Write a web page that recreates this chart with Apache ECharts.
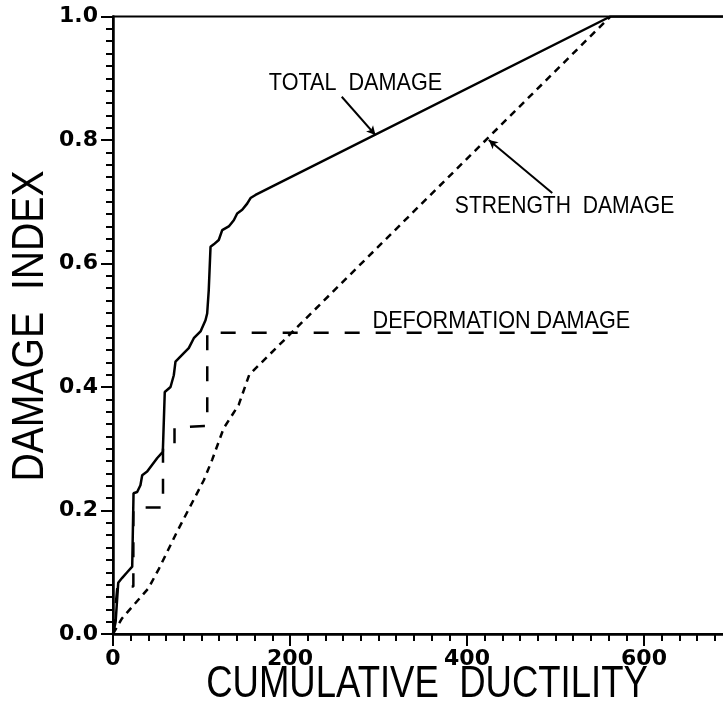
<!DOCTYPE html>
<html>
<head>
<meta charset="utf-8">
<script src="https://cdn.jsdelivr.net/npm/echarts@6/dist/echarts.min.js"></script>
<style>
  html, body { margin: 0; padding: 0; background: #fff; }
  #chart { width: 723px; height: 712px; }
</style>
</head>
<body>
<div id="chart"></div>
<script>
// Damage index versus cumulative ductility: [ductility, damage index]
const totalDamage = [
  [0, 0], [3, 0.02], [5.9, 0.083], [10.4, 0.091], [16, 0.100], [21.7, 0.109],
  [23.2, 0.228], [27.3, 0.230], [31, 0.241], [33, 0.257], [38.6, 0.263],
  [44.3, 0.274], [50, 0.285], [56.3, 0.295], [58.5, 0.392], [65, 0.400],
  [68.7, 0.419], [70.6, 0.441], [80, 0.455], [85.6, 0.463], [91.3, 0.479],
  [98.9, 0.490], [104.5, 0.508], [106.4, 0.519], [108.2, 0.557], [110.2, 0.627],
  [113.9, 0.631], [119.5, 0.638], [123.4, 0.654], [130.8, 0.660], [136.5, 0.670],
  [140.3, 0.681], [146, 0.687], [151.6, 0.697], [155.4, 0.706], [161, 0.711],
  [562, 1.0], [700, 1.0]
];
const deformationDamage = [
  [0, 0], [5, 0.077], [23, 0.077], [23, 0.205], [56.5, 0.205], [56.5, 0.300],
  [69.5, 0.300], [69.5, 0.334], [103, 0.337], [106.5, 0.337], [106.5, 0.488],
  [559, 0.488]
];
const strengthDamage = [
  [0, 0], [10, 0.025], [40, 0.074], [52, 0.106], [72.5, 0.166], [102.6, 0.249],
  [112, 0.282], [125, 0.333], [142, 0.371], [154, 0.420], [562, 1.0]
];
const xTickLabels = [0, 200, 400, 600];
const yTickLabels = ['0.0', '0.2', '0.4', '0.6', '0.8', '1.0'];

const xTitle = 'CUMULATIVE  DUCTILITY';
const yTitle = 'DAMAGE  INDEX';
const curveNames = ['TOTAL  DAMAGE', 'STRENGTH  DAMAGE', 'DEFORMATION DAMAGE'];

const INK = '#000';
const tickFont = { color: INK, fontFamily: 'DejaVu Sans', fontWeight: 'bold', fontSize: 22 };

const chart = echarts.init(document.getElementById('chart'), null, { renderer: 'canvas' });

const leader = (from, to) => ({
  symbol: ['none', 'arrow'],
  symbolSize: [7, 9],
  silent: true,
  label: { show: false },
  lineStyle: { color: INK, width: 2, type: 'solid' },
  data: [[{ coord: from }, { coord: to }]]
});

const option = {
  animation: false,
  backgroundColor: '#fff',
  grid: {
    left: 113, top: 16.5, height: 617.5, width: 619.5,
    outerBoundsMode: 'none', containLabel: false,
    show: true, borderColor: INK, borderWidth: 2, backgroundColor: 'transparent'
  },
  xAxis: [
    {
      type: 'value', min: 0, max: 700, interval: 20, position: 'bottom',
      axisLine: { show: true, onZero: false, lineStyle: { color: INK, width: 2.5 } },
      axisTick: { show: true, inside: false, length: 7, lineStyle: { color: INK, width: 2 } },
      axisLabel: { show: false },
      splitLine: { show: false }
    },
    {
      type: 'value', min: 0, max: 700, interval: 200, position: 'bottom',
      axisLine: { show: false, onZero: false },
      axisTick: { show: true, inside: false, length: 12, lineStyle: { color: INK, width: 2 } },
      axisLabel: Object.assign({
        margin: 14,
        formatter: v => (xTickLabels.indexOf(v) >= 0 ? String(v) : '')
      }, tickFont),
      splitLine: { show: false }
    }
  ],
  yAxis: [
    {
      type: 'value', min: 0, max: 1, interval: 0.02, position: 'left',
      axisLine: { show: true, onZero: false, lineStyle: { color: INK, width: 2.5 } },
      axisTick: { show: true, inside: false, length: 7, lineStyle: { color: INK, width: 2 } },
      axisLabel: { show: false },
      splitLine: { show: false }
    },
    {
      type: 'value', min: 0, max: 1, interval: 0.2, position: 'left',
      axisLine: { show: false, onZero: false },
      axisTick: { show: true, inside: false, length: 12, lineStyle: { color: INK, width: 2 } },
      axisLabel: Object.assign({
        margin: 15,
        formatter: v => yTickLabels[Math.round(v * 5)]
      }, tickFont),
      splitLine: { show: false }
    }
  ],
  series: [
    {
      name: curveNames[0], type: 'line', data: totalDamage,
      xAxisIndex: 0, yAxisIndex: 0, showSymbol: false, clip: true,
      lineStyle: { color: INK, width: 2.5, type: 'solid' },
      markLine: leader([258.5, 0.870], [296.6, 0.808])
    },
    {
      name: curveNames[1], type: 'line', data: strengthDamage,
      xAxisIndex: 0, yAxisIndex: 0, showSymbol: false, clip: true,
      lineStyle: { color: INK, width: 2.5, type: [7, 5.5] },
      markLine: leader([496.3, 0.714], [424.6, 0.800])
    },
    {
      name: curveNames[2], type: 'line', data: deformationDamage,
      xAxisIndex: 0, yAxisIndex: 0, showSymbol: false, clip: true,
      lineStyle: { color: INK, width: 2.5, type: [15, 16] }
    }
  ]
};

chart.setOption(option);

// Text placed in data space, then converted to pixels
const toPx = (pt) => chart.convertToPixel({ gridIndex: 0 }, pt);
const note = (text, pt, size, sx) => {
  const p = toPx(pt);
  return {
    type: 'text', x: p[0], y: p[1], scaleX: sx, silent: true,
    style: {
      text: text, fill: INK, fontFamily: 'Liberation Sans', fontSize: size,
      align: 'center', verticalAlign: 'middle'
    }
  };
};

chart.setOption({
  graphic: [
    note(curveNames[0], [274, 0.892], 24, 0.9),
    note(curveNames[1], [510.2, 0.693], 24, 0.88),
    note(curveNames[2], [438.8, 0.507], 24, 0.9),
    {
      type: 'text', x: 427, y: 685, scaleX: 0.83, silent: true,
      style: {
        text: xTitle, fill: INK, fontFamily: 'Liberation Sans', fontSize: 44,
        align: 'center', verticalAlign: 'middle'
      }
    },
    {
      type: 'text', x: 31, y: 326, rotation: Math.PI / 2, scaleX: 0.89, silent: true,
      style: {
        text: yTitle, fill: INK, fontFamily: 'Liberation Sans', fontSize: 44,
        align: 'center', verticalAlign: 'middle'
      }
    }
  ]
});
</script>
</body>
</html>
